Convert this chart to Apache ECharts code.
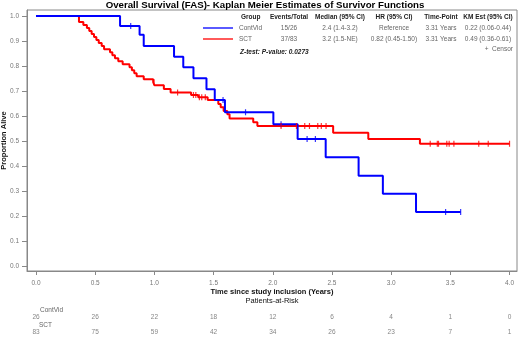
<!DOCTYPE html>
<html>
<head>
<meta charset="utf-8">
<script src="https://cdn.jsdelivr.net/npm/echarts@6/dist/echarts.min.js"></script>
<style>
  html, body { margin: 0; padding: 0; background: #fff; }
  #chart { width: 520px; height: 340px; }
</style>
</head>
<body>
<div id="chart"></div>
<script>
// KM step points [time, survival]
const contvidSteps = [
  [0, 1], [0.71, 0.96], [0.875, 0.925], [0.91, 0.88], [1.166, 0.837], [1.244, 0.795],
  [1.33, 0.751], [1.44, 0.707], [1.51, 0.664], [1.596, 0.615], [2.005, 0.567],
  [2.21, 0.508], [2.447, 0.435], [2.725, 0.361], [2.93, 0.289], [3.21, 0.216], [3.587, 0.216]
];
const sctSteps = [
  [0, 1], [0.363, 0.976], [0.40, 0.964], [0.43, 0.952], [0.45, 0.94], [0.47, 0.928],
  [0.49, 0.916], [0.51, 0.904], [0.53, 0.892], [0.555, 0.88], [0.575, 0.867],
  [0.625, 0.855], [0.645, 0.843], [0.667, 0.831], [0.695, 0.819], [0.732, 0.807],
  [0.79, 0.795], [0.81, 0.783], [0.83, 0.771], [0.85, 0.759], [0.91, 0.747],
  [0.99, 0.735], [1.0, 0.723], [1.08, 0.708], [1.137, 0.694], [1.31, 0.684],
  [1.37, 0.675], [1.45, 0.664], [1.54, 0.648], [1.56, 0.635], [1.585, 0.62],
  [1.616, 0.607], [1.635, 0.59], [1.835, 0.575], [1.87, 0.56], [2.51, 0.533],
  [2.807, 0.508], [3.243, 0.489], [4.0, 0.489]
];
const contvidCensor = [
  [0.80, 0.96], [1.58, 0.664], [1.77, 0.615], [2.07, 0.567], [2.29, 0.508],
  [2.36, 0.508], [3.46, 0.216], [3.587, 0.216]
];
const sctCensor = [
  [0.997, 0.735], [1.196, 0.694], [1.33, 0.684], [1.35, 0.684], [1.38, 0.675],
  [1.40, 0.675], [1.43, 0.675], [2.07, 0.56], [2.2, 0.56], [2.27, 0.56], [2.31, 0.56],
  [2.38, 0.56], [2.41, 0.56], [2.45, 0.56], [3.33, 0.489], [3.39, 0.489], [3.40, 0.489],
  [3.47, 0.489], [3.49, 0.489], [3.53, 0.489], [3.74, 0.489], [3.82, 0.489], [4.0, 0.489]
];

const xTicks = [0, 0.5, 1, 1.5, 2, 2.5, 3, 3.5, 4];
const yTicks = [0, 0.1, 0.2, 0.3, 0.4, 0.5, 0.6, 0.7, 0.8, 0.9, 1.0];
const riskTimes = [0, 0.5, 1, 1.5, 2, 2.5, 3, 3.5, 4];
const riskContVid = [26, 26, 22, 18, 12, 6, 4, 1, 0];
const riskSCT = [83, 75, 59, 42, 34, 26, 23, 7, 1];

const groups = ['ContVid', 'SCT'];
const tableHeaders = ['Group', 'Events/Total', 'Median (95% CI)', 'HR (95% CI)', 'Time-Point', 'KM Est (95% CI)'];
const tableRows = [
  ['ContVid', '15/26', '2.4 (1.4-3.2)', 'Reference', '3.31 Years', '0.22 (0.06-0.44)'],
  ['SCT', '37/83', '3.2 (1.5-NE)', '0.82 (0.45-1.50)', '3.31 Years', '0.49 (0.36-0.61)']
];
const zTest = 'Z-test: P-value: 0.0273';

const FONT = 'Arial, "Liberation Sans", sans-serif';
const BLUE = '#0000ff';
const RED = '#ff0000';

const chart = echarts.init(document.getElementById('chart'), null, { renderer: 'canvas' });

// table layout (column anchors)
const colX = [241, 289, 340, 394, 441, 488];
const rowY = [17, 28, 39];
const tableGraphics = [];
tableHeaders.forEach((h, i) => {
  tableGraphics.push({
    type: 'text', x: colX[i], y: rowY[0],
    style: { text: h, fill: '#222', font: 'bold 6.5px ' + FONT,
      textAlign: i === 0 ? 'left' : 'center', align: i === 0 ? 'left' : 'center',
      textVerticalAlign: 'middle', verticalAlign: 'middle' }
  });
});
tableRows.forEach((row, r) => {
  row.forEach((cell, i) => {
    tableGraphics.push({
      type: 'text', x: i === 0 ? 239 : colX[i], y: rowY[r + 1],
      style: { text: cell, fill: '#666', font: '6.5px ' + FONT,
        textAlign: i === 0 ? 'left' : 'center', align: i === 0 ? 'left' : 'center',
        textVerticalAlign: 'middle', verticalAlign: 'middle' }
    });
  });
  tableGraphics.push({
    type: 'line', shape: { x1: 203, y1: rowY[r + 1], x2: 233, y2: rowY[r + 1] },
    style: { stroke: r === 0 ? BLUE : RED, lineWidth: 1.3 }
  });
});

const option = {
  animation: false,
  backgroundColor: '#fff',
  grid: [
    { left: 27, right: 3, top: 10, bottom: 69, show: true, borderColor: '#888', borderWidth: 1,
      containLabel: false, outerBoundsMode: 'none' },
    { left: 27, right: 3, top: 310, height: 30, containLabel: false, outerBoundsMode: 'none' }
  ],
  xAxis: [
    {
      type: 'value', gridIndex: 0, min: -0.076, max: 4.063,
      name: 'Time since study inclusion (Years)', nameLocation: 'middle', nameGap: 17,
      nameMoveOverlap: false,
      nameTextStyle: { color: '#111', fontFamily: FONT, fontSize: 7.5, fontWeight: 'bold' },
      axisLine: { show: true, onZero: false, lineStyle: { color: '#888' } },
      axisTick: { show: true, length: 4, customValues: xTicks, lineStyle: { color: '#888' } },
      axisLabel: { customValues: xTicks, color: '#777', fontFamily: FONT, fontSize: 6.5, margin: 9,
        formatter: v => v.toFixed(1) },
      splitLine: { show: false }
    },
    {
      type: 'value', gridIndex: 1, min: -0.076, max: 4.063, show: false
    }
  ],
  yAxis: [
    {
      type: 'value', gridIndex: 0, min: -0.02, max: 1.024,
      name: 'Proportion Alive', nameLocation: 'middle', nameGap: 19,
      nameMoveOverlap: false,
      nameTextStyle: { color: '#111', fontFamily: FONT, fontSize: 7.5, fontWeight: 'bold' },
      axisLine: { show: true, onZero: false, lineStyle: { color: '#888' } },
      axisTick: { show: true, length: 5, customValues: yTicks, lineStyle: { color: '#888' } },
      axisLabel: { customValues: yTicks, color: '#777', fontFamily: FONT, fontSize: 6.5, margin: 8,
        formatter: v => v.toFixed(1) },
      splitLine: { show: false }
    },
    {
      type: 'category', gridIndex: 1, data: ['SCT', 'ContVid'], show: false
    }
  ],
  series: [
    {
      name: 'ContVid', type: 'line', step: 'end', data: contvidSteps, symbol: 'none',
      lineStyle: { color: BLUE, width: 2 }, z: 3
    },
    {
      name: 'SCT', type: 'line', step: 'end', data: sctSteps, symbol: 'none',
      lineStyle: { color: RED, width: 2 }, z: 2
    },
    {
      type: 'scatter', data: contvidCensor, symbol: 'rect', symbolSize: [1.2, 6],
      itemStyle: { color: BLUE }, z: 4
    },
    {
      type: 'scatter', data: sctCensor, symbol: 'rect', symbolSize: [1.2, 6],
      itemStyle: { color: RED }, z: 4
    },
    {
      type: 'scatter', xAxisIndex: 1, yAxisIndex: 1, symbolSize: 1,
      itemStyle: { color: 'transparent' },
      data: riskTimes.map((t, i) => [t, 'ContVid', riskContVid[i]]),
      label: { show: true, position: 'inside', formatter: p => p.value[2],
        color: '#666', fontFamily: FONT, fontSize: 6.5 }
    },
    {
      type: 'scatter', xAxisIndex: 1, yAxisIndex: 1, symbolSize: 1,
      itemStyle: { color: 'transparent' },
      data: riskTimes.map((t, i) => [t, 'SCT', riskSCT[i]]),
      label: { show: true, position: 'inside', formatter: p => p.value[2],
        color: '#666', fontFamily: FONT, fontSize: 6.5 }
    }
  ],
  graphic: [
    {
      type: 'text', x: 265, y: 5,
      style: { text: 'Overall Survival (FAS)- Kaplan Meier Estimates of Survivor Functions',
        fill: '#000', font: 'bold 9.7px ' + FONT, textAlign: 'center', align: 'center',
        textVerticalAlign: 'middle', verticalAlign: 'middle' }
    },
    ...tableGraphics,
    {
      type: 'text', x: 240, y: 52,
      style: { text: zTest, fill: '#222', font: 'italic bold 6.5px ' + FONT,
        textAlign: 'left', align: 'left', textVerticalAlign: 'middle', verticalAlign: 'middle' }
    },
    {
      type: 'text', x: 513, y: 49,
      style: { text: '+  Censor', fill: '#666', font: '6.5px ' + FONT,
        textAlign: 'right', align: 'right', textVerticalAlign: 'middle', verticalAlign: 'middle' }
    },
    {
      type: 'text', x: 272, y: 301,
      style: { text: 'Patients-at-Risk', fill: '#111', font: '7.5px ' + FONT,
        textAlign: 'center', align: 'center', textVerticalAlign: 'middle', verticalAlign: 'middle' }
    },
    {
      type: 'text', x: 40, y: 310,
      style: { text: groups[0], fill: '#666', font: '6.5px ' + FONT,
        textAlign: 'left', align: 'left', textVerticalAlign: 'middle', verticalAlign: 'middle' }
    },
    {
      type: 'text', x: 39, y: 325,
      style: { text: groups[1], fill: '#666', font: '6.5px ' + FONT,
        textAlign: 'left', align: 'left', textVerticalAlign: 'middle', verticalAlign: 'middle' }
    }
  ]
};

chart.setOption(option);
</script>
</body>
</html>
